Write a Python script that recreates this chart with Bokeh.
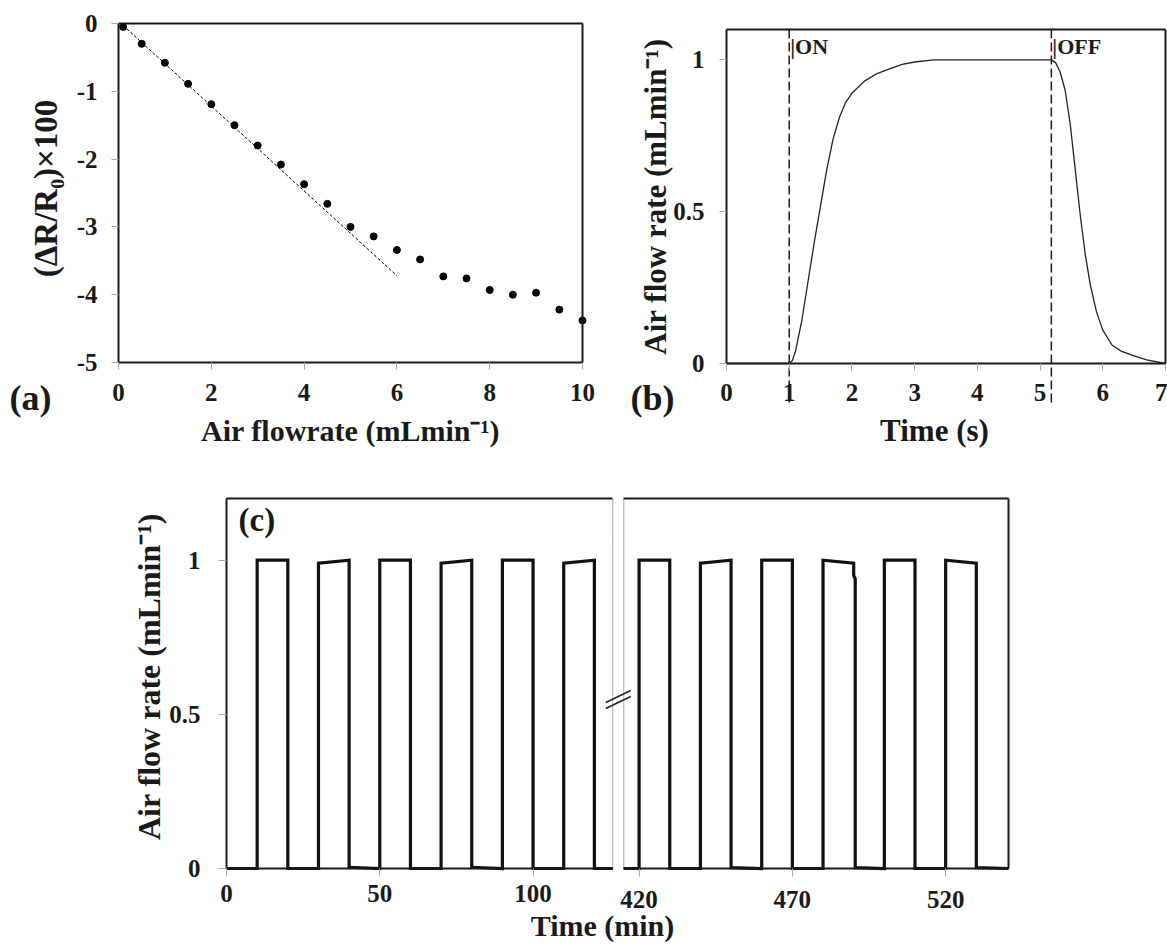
import math
from bokeh.plotting import figure
from bokeh.models import Range1d, LinearAxis, FixedTicker, CustomJSTickFormatter, Label, Grid
from bokeh.layouts import column, row
from bokeh.embed import file_html
from bokeh.resources import INLINE

FONT = "Liberation Serif"
INK = "#1a1a1a"

# ---------------- data ----------------
# (a) resistance change vs air flowrate
flow_a = [0.1, 0.5, 1.0, 1.5, 2.0, 2.5, 3.0, 3.5, 4.0, 4.5, 5.0,
          5.5, 6.0, 6.5, 7.0, 7.5, 8.0, 8.5, 9.0, 9.5, 10.0]
dr_a = [-0.05, -0.30, -0.58, -0.89, -1.19, -1.50, -1.80, -2.08, -2.37, -2.66, -3.00,
        -3.14, -3.34, -3.48, -3.73, -3.76, -3.93, -4.00, -3.97, -4.22, -4.38]
fit_x = [0.1, 6.0]
fit_y = [-0.03, -3.72]

# (b) single on/off response
t_b = [0.0, 1.0, 1.05, 1.1, 1.2, 1.3, 1.4, 1.5, 1.6, 1.7, 1.8, 1.9, 2.0, 2.2, 2.4,
       2.6, 2.8, 3.0, 3.3, 4.0, 5.0, 5.18, 5.25, 5.32, 5.4, 5.48, 5.56, 5.64, 5.72,
       5.8, 5.9, 6.0, 6.15, 6.3, 6.5, 6.7, 7.0]
q_b = [0.0, 0.0, 0.01, 0.04, 0.14, 0.27, 0.40, 0.52, 0.64, 0.74, 0.81, 0.86, 0.89, 0.93, 0.955,
       0.97, 0.985, 0.993, 1.0, 1.0, 1.0, 1.0, 0.99, 0.96, 0.90, 0.79, 0.64, 0.49, 0.36,
       0.26, 0.17, 0.11, 0.06, 0.04, 0.025, 0.012, 0.0]
on_time = 1.0
off_time = 5.18

# (c) repeated cycles, first and last segment
t_c1 = [0, 10, 10, 20, 20, 30, 30, 40, 40, 50, 50, 60, 60, 70, 70, 80, 80, 90, 90,
        100, 100, 110, 110, 120, 120, 126]
v_c1 = [0, 0, 1.0, 1.0, 0, 0, 0.99, 1.0, 0.004, 0, 1.0, 1.0, 0, 0, 0.99, 1.0, 0.004, 0, 1.0,
        1.0, 0, 0, 0.99, 1.0, 0, 0]
t_c2 = [415, 420, 420, 430, 430, 440, 440, 450, 450, 460, 460, 470, 470, 480, 480, 490,
        490, 490.5, 490.5, 500, 500, 510, 510, 520, 520, 530, 530, 540.5]
v_c2 = [0, 0, 1.0, 1.0, 0, 0, 0.99, 1.0, 0.003, 0, 1.0, 1.0, 0, 0, 1.0, 0.99,
        0.95, 0.94, 0.003, 0, 1.0, 1.0, 0, 0, 1.0, 0.99, 0.003, 0]

ticks_a_x = [0, 2, 4, 6, 8, 10]
ticks_a_y = [-5, -4, -3, -2, -1, 0]
ticks_b_x = [0, 1, 2, 3, 4, 5, 6, 7]
ticks_b_y = [0, 0.5, 1]
ticks_c_left = [0, 50, 100]
ticks_c_right = [420, 470, 520]
ticks_c_y = [0, 0.5, 1]


# ---------------- layout helpers ----------------
class Box:
    """Maps canvas pixels to data, frame (axes box) given in canvas pixels."""
    def __init__(self, w, h, left, right, top, bottom, xlo, xhi, ylo, yhi):
        self.w, self.h = w, h
        self.left, self.bottom = left, bottom
        self.kx = (xhi - xlo) / (right - left)
        self.ky = (yhi - ylo) / (bottom - top)
        self.xlo, self.ylo = xlo, ylo
        self.x_range = Range1d(self.x(0), self.x(w))
        self.y_range = Range1d(self.y(h), self.y(0))

    def x(self, px):
        return self.xlo + (px - self.left) * self.kx

    def y(self, py):
        return self.ylo + (self.bottom - py) * self.ky


def make_fig(box):
    p = figure(width=box.w, height=box.h, x_range=box.x_range, y_range=box.y_range,
               x_axis_location=None, y_axis_location=None, output_backend="svg",
               toolbar_location=None, min_border=0, min_border_left=0, min_border_right=0,
               min_border_top=0, min_border_bottom=0)
    p.outline_line_color = None
    p.background_fill_color = "white"
    p.border_fill_color = "white"
    for r in list(p.center) + list(p.renderers):
        if isinstance(r, Grid):
            r.visible = False
            r.grid_line_color = None
    return p


def add_axis(p, side, loc, bounds, ticks=None, size="25px", standoff=10, rng=None, tick_out=7):
    kw = {}
    if rng is not None:
        kw["x_range_name"] = rng
    ax = LinearAxis(fixed_location=loc, bounds=bounds,
                    ticker=FixedTicker(ticks=ticks or []), **kw)
    ax.formatter = CustomJSTickFormatter(code="return String(tick)")
    ax.axis_line_color = INK
    ax.axis_line_width = 2
    ax.minor_tick_line_color = None
    if ticks:
        ax.major_tick_out = tick_out
        ax.major_tick_in = 0
        ax.major_tick_line_color = "#aaaaaa"
        ax.major_label_text_font = FONT
        ax.major_label_text_font_style = "bold"
        ax.major_label_text_font_size = size
        ax.major_label_text_color = INK
        ax.major_label_standoff = standoff
    else:
        ax.major_tick_line_color = None
        ax.major_label_text_font_size = "0px"
    p.add_layout(ax, side)
    return ax


def text(p, x, y, s, size, align="left", angle=0, rng=None):
    kw = {}
    if rng is not None:
        kw["x_range_name"] = rng
    p.add_layout(Label(x=x, y=y, text=s, text_font=FONT, text_font_style="bold",
                       text_font_size=size, text_align=align, text_baseline="middle",
                       angle=angle, text_color=INK, **kw))


# ---------------- panel (a) ----------------
ba = Box(600, 448, 118, 582, 23, 362, 0, 10, -5, 0)
pa = make_fig(ba)
add_axis(pa, "below", -5, (0, 10), ticks_a_x, standoff=14)
add_axis(pa, "left", 0, (-5, 0), ticks_a_y, standoff=14)
add_axis(pa, "above", 0, (0, 10))
add_axis(pa, "right", 10, (-5, 0))
pa.line(fit_x, fit_y, line_color="black", line_width=1, line_dash="3 2")
pa.scatter(flow_a, dr_a, size=7, color="black")
text(pa, ba.x(9), ba.y(397), "(a)", "36px")
text(pa, ba.x(350), ba.y(430), "Air flowrate (mLmin\u207b\u00b9)", "30px", align="center")
text(pa, ba.x(45), ba.y(188), "(\u0394R/R\u2080)\u00d7100", "33px", align="center",
     angle=math.pi / 2)

# ---------------- panel (b) ----------------
bb = Box(567, 448, 126, 565, 29, 363, 0, 7, 0, 1.1)
pb = make_fig(bb)
add_axis(pb, "below", 0, (0, 7), ticks_b_x, standoff=13)
add_axis(pb, "left", 0, (0, 1.1), ticks_b_y, standoff=15)
add_axis(pb, "above", 1.1, (0, 7))
add_axis(pb, "right", 7, (0, 1.1))
pb.segment(x0=[on_time, off_time], y0=[1.1, 1.1], x1=[on_time, off_time],
           y1=[bb.y(402)] * 2, line_color=INK, line_width=1.5, line_dash="9 4")
pb.line(t_b, q_b, line_color="#222222", line_width=1.3)
for loc, txt in ((on_time, "|ON"), (off_time, "|OFF")):
    text(pb, loc + bb.kx * 1, bb.y(46), txt, "22px")
text(pb, bb.x(630 - 600), bb.y(397), "(b)", "36px")
text(pb, bb.x(934 - 600), bb.y(430), "Time (s)", "31px", align="center")
text(pb, bb.x(655 - 600), bb.y(196), "Air flow rate (mLmin\u207b\u00b9)", "31px",
     align="center", angle=math.pi / 2)

# ---------------- panel (c) ----------------
C_W, C_H, C_TOP = 1167, 498, 448
C_LEFT, C_RIGHT = 226, 1008
GAP_PX = 11
LEFT_END = 126
RIGHT_START = 415
RIGHT_END = 540.5
px_per_min = (C_RIGHT - C_LEFT - GAP_PX) / (LEFT_END + RIGHT_END - RIGHT_START)
split_px = C_LEFT + LEFT_END * px_per_min

bc = Box(C_W, C_H, C_LEFT, split_px, 498 - C_TOP, 868 - C_TOP, 0, LEFT_END, 0, 1.2)
br = Box(C_W, C_H, split_px + GAP_PX, C_RIGHT, 498 - C_TOP, 868 - C_TOP,
         RIGHT_START, RIGHT_END, 0, 1.2)
pc = make_fig(bc)
pc.extra_x_ranges = {"right": br.x_range}

add_axis(pc, "left", 0, (0, 1.2), ticks_c_y, standoff=18, tick_out=8)
add_axis(pc, "below", 0, (0, LEFT_END), ticks_c_left, standoff=8, tick_out=8)
add_axis(pc, "below", 0, (RIGHT_START, RIGHT_END), ticks_c_right, standoff=14,
         rng="right", tick_out=8)
add_axis(pc, "above", 1.2, (0, LEFT_END))
add_axis(pc, "above", 1.2, (RIGHT_START, RIGHT_END), rng="right")
add_axis(pc, "right", RIGHT_END, (0, 1.2), rng="right")

# dotted edges at the axis break
pc.segment(x0=[LEFT_END], y0=[0], x1=[LEFT_END], y1=[1.2],
           line_color="#555555", line_width=1, line_dash="1 1")
pc.segment(x0=[RIGHT_START], y0=[0], x1=[RIGHT_START], y1=[1.2],
           line_color="#555555", line_width=1, line_dash="1 1", x_range_name="right")

pc.line(t_c1, v_c1, line_color="#111111", line_width=3.2, line_join="miter")
pc.line(t_c2, v_c2, line_color="#111111", line_width=3.2, line_join="miter",
        x_range_name="right")

# axis-break mark "//"
mid = split_px + GAP_PX / 2
pc.segment(x0=[bc.x(mid - 12.5)] * 2, y0=[bc.y(708 - C_TOP), bc.y(702 - C_TOP)],
           x1=[bc.x(mid + 12.5)] * 2, y1=[bc.y(696 - C_TOP), bc.y(690 - C_TOP)],
           line_color="#222222", line_width=1.5)

text(pc, bc.x(238), bc.y(519 - C_TOP), "(c)", "33px")
text(pc, bc.x(602), bc.y(925 - C_TOP), "Time (min)", "30px", align="center")
text(pc, bc.x(148), bc.y(676 - C_TOP), "Air flow rate (mLmin\u207b\u00b9)", "32px",
     align="center", angle=math.pi / 2)

layout = column(row(pa, pb), pc)
open("out.html", "w").write(file_html(layout, INLINE))
